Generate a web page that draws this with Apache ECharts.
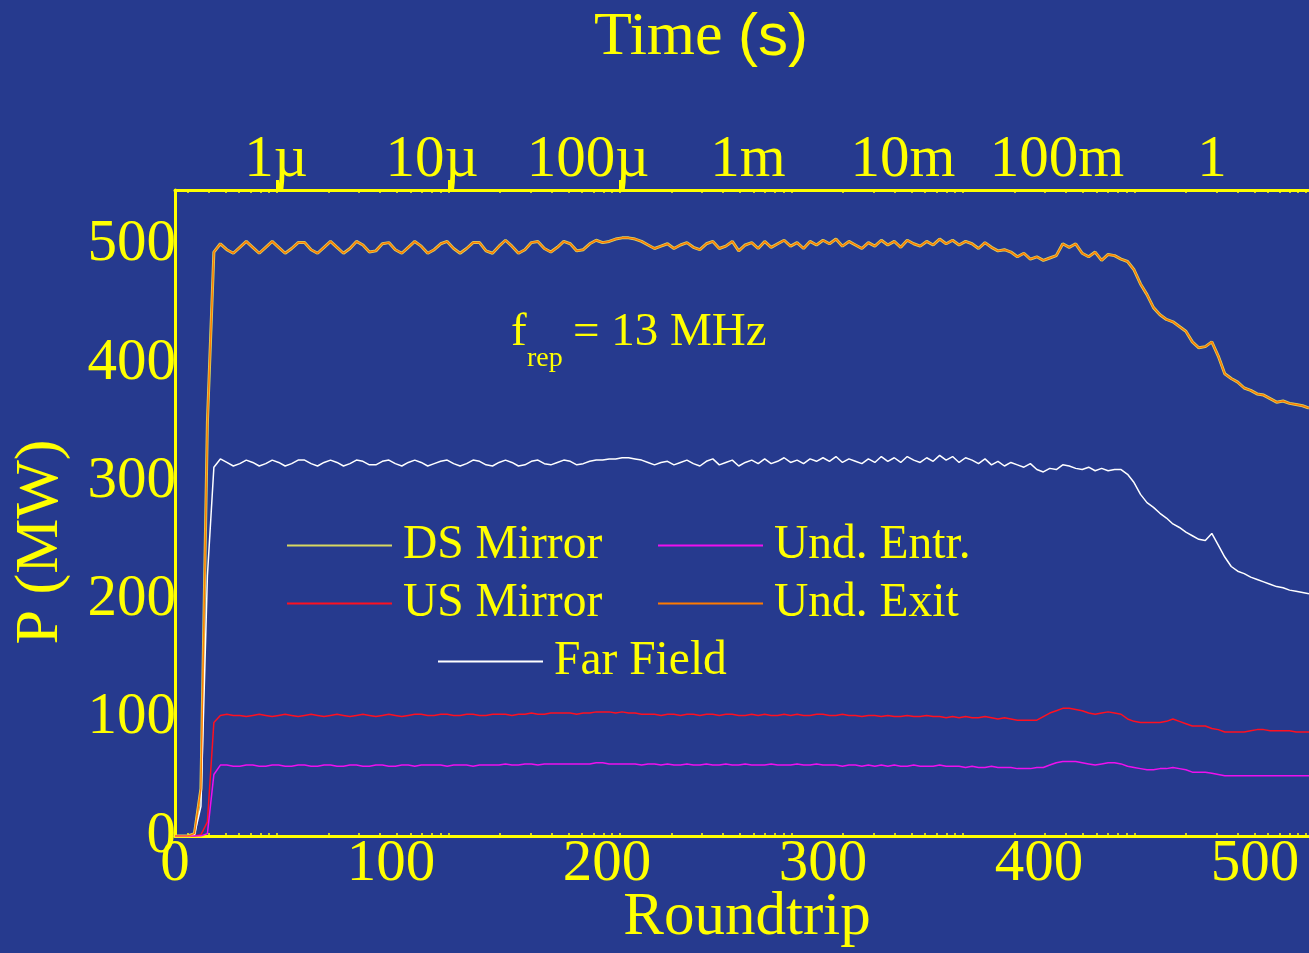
<!DOCTYPE html>
<html>
<head>
<meta charset="utf-8">
<script src="https://cdn.jsdelivr.net/npm/echarts@6/dist/echarts.min.js"></script>
<style>
  html, body { margin: 0; padding: 0; background: #263a8e; }
  #chart { width: 1309px; height: 953px; }
</style>
</head>
<body>
<div id="chart"></div>
<script>
const SERIF = '"Liberation Serif", "Times New Roman", serif';
const SANS = '"Liberation Sans", Arial, sans-serif';
const YELLOW = '#ffff00';
const BG = '#263a8e';

// sample positions (roundtrip number)
const roundtrip = [
  0, 3, 6, 9, 12, 15, 18, 21, 24, 27,
  30, 33, 36, 39, 42, 45, 48, 51, 54, 57,
  60, 63, 66, 69, 72, 75, 78, 81, 84, 87,
  90, 93, 96, 99, 102, 105, 108, 111, 114, 117,
  120, 123, 126, 129, 132, 135, 138, 141, 144, 147,
  150, 153, 156, 159, 162, 165, 168, 171, 174, 177,
  180, 183, 186, 189, 192, 195, 198, 201, 204, 207,
  210, 213, 216, 219, 222, 225, 228, 231, 234, 237,
  240, 243, 246, 249, 252, 255, 258, 261, 264, 267,
  270, 273, 276, 279, 282, 285, 288, 291, 294, 297,
  300, 303, 306, 309, 312, 315, 318, 321, 324, 327,
  330, 333, 336, 339, 342, 345, 348, 351, 354, 357,
  360, 363, 366, 369, 372, 375, 378, 381, 384, 387,
  390, 393, 396, 399, 402, 405, 408, 411, 414, 417,
  420, 423, 426, 429, 432, 435, 438, 441, 444, 447,
  450, 453, 456, 459, 462, 465, 468, 471, 474, 477,
  480, 483, 486, 489, 492, 495, 498, 501, 504, 507,
  510, 513, 516, 519, 522, 525
];

// power in MW
const undExit = [
  0, 0, 0, 2, 40, 350, 494, 501, 496, 493,
  498, 503, 498, 493, 498, 503, 498, 493, 497, 502,
  502, 496, 493, 498, 503, 498, 493, 497, 503, 500,
  494, 495, 501, 502, 496, 493, 498, 503, 499, 493,
  496, 501, 503, 497, 493, 497, 502, 502, 495, 493,
  499, 504, 499, 493, 496, 502, 503, 497, 494, 498,
  503, 501, 495, 496, 501, 504, 502, 503, 505, 506,
  506, 505, 503, 500, 497, 499, 501, 497, 500, 502,
  498, 496, 501, 503, 497, 499, 503, 495, 500, 502,
  497, 503, 498, 501, 504, 499, 502, 497, 503, 500,
  504, 501, 505, 499, 503, 500, 497, 502, 499, 504,
  500, 503, 498, 504, 501, 499, 503, 500, 505, 501,
  504, 500, 503, 501, 497, 502, 498, 495, 496, 494,
  490, 493, 488, 490, 487, 489, 491, 501, 498, 501,
  493, 490, 494, 487, 492, 491, 488, 486, 479, 467,
  458, 447, 441, 437, 435, 431, 427, 418, 413, 414,
  418, 406, 391, 387, 384, 379, 377, 374, 373, 370,
  367, 368, 366, 365, 364, 362
];

const farField = [
  0, 0, 0, 1, 25, 220, 312, 319, 316, 313,
  315, 318, 316, 313, 315, 318, 316, 313, 315, 318,
  318, 315, 313, 316, 318, 316, 313, 315, 318, 317,
  314, 314, 317, 318, 315, 313, 316, 318, 316, 313,
  315, 317, 318, 315, 313, 315, 318, 317, 314, 313,
  316, 318, 316, 313, 314, 317, 318, 315, 314, 316,
  318, 317, 314, 315, 317, 318, 318, 319, 319, 320,
  320, 319, 318, 316, 314, 316, 317, 314, 316, 318,
  315, 313, 317, 319, 314, 316, 318, 313, 316, 318,
  315, 319, 315, 317, 320, 316, 318, 315, 319, 317,
  320, 317, 321, 316, 319, 317, 315, 319, 316, 321,
  317, 320, 316, 321, 318, 316, 320, 317, 322, 318,
  321, 316, 320, 318, 315, 319, 314, 317, 313, 316,
  314, 312, 315, 310, 308, 311, 310, 314, 313, 311,
  310, 312, 309, 311, 309, 310, 310, 306, 299, 289,
  282, 278, 273, 269, 264, 261, 257, 254, 251, 250,
  256, 246, 236, 228, 224, 222, 219, 217, 215, 213,
  211, 210, 208, 207, 206, 205
];

const usMirror = [
  0, 0, 0, 0, 1, 12, 96, 102, 103, 102,
  102, 101, 102, 103, 102, 101, 102, 103, 102, 101,
  102, 103, 102, 101, 102, 103, 102, 101, 102, 103,
  102, 101, 102, 103, 102, 101, 102, 103, 103, 102,
  102, 103, 103, 102, 102, 103, 103, 102, 102, 103,
  103, 103, 102, 103, 103, 104, 103, 103, 104, 104,
  104, 104, 103, 104, 104, 105, 105, 105, 104, 105,
  104, 104, 103, 103, 103, 102, 103, 103, 102, 103,
  103, 102, 103, 103, 102, 103, 103, 102, 102, 103,
  102, 103, 102, 102, 103, 102, 103, 102, 102, 103,
  103, 102, 102, 103, 102, 102, 101, 102, 102, 101,
  102, 101, 101, 102, 101, 101, 102, 101, 101, 100,
  101, 100, 101, 100, 100, 101, 100, 99, 100, 99,
  98, 98, 98, 98, 101, 104, 106, 108, 108, 107,
  106, 104, 103, 104, 105, 104, 103, 99, 97, 96,
  96, 96, 96, 97, 99, 97, 95, 93, 93, 93,
  91, 90, 88, 88, 88, 88, 89, 90, 90, 89,
  89, 89, 89, 88, 88, 88
];

const undEntr = [
  0, 0, 0, 0, 0, 2, 52, 60, 60, 59,
  59, 60, 60, 59, 59, 60, 60, 59, 59, 60,
  60, 59, 59, 60, 60, 59, 59, 60, 60, 59,
  59, 60, 60, 59, 59, 60, 60, 59, 60, 60,
  60, 60, 59, 60, 60, 60, 59, 60, 60, 60,
  60, 61, 60, 60, 61, 61, 60, 61, 61, 61,
  61, 61, 61, 61, 61, 62, 62, 61, 61, 61,
  61, 61, 60, 61, 61, 60, 61, 60, 60, 61,
  60, 60, 61, 60, 60, 61, 60, 60, 61, 60,
  60, 60, 61, 60, 60, 60, 61, 60, 60, 61,
  60, 60, 60, 59, 60, 60, 59, 60, 59, 60,
  59, 60, 59, 59, 60, 59, 59, 59, 60, 59,
  59, 59, 58, 59, 58, 58, 59, 58, 58, 58,
  57, 57, 57, 58, 58, 60, 62, 63, 63, 63,
  62, 61, 60, 61, 62, 62, 61, 59, 58, 57,
  56, 56, 57, 57, 58, 57, 56, 54, 54, 54,
  53, 52, 51, 51, 51, 51, 51, 51, 51, 51,
  51, 51, 51, 51, 51, 51
];

// the DS Mirror trace lies right under the Und. Exit trace
const dsMirror = undExit;

const xTicks = [0, 100, 200, 300, 400, 500];
const yTicks = [0, 100, 200, 300, 400, 500];
const timeLabels = ['1\u00b5', '10\u00b5', '100\u00b5', '1m', '10m', '100m', '1'];
const timeLabelPos = [46.8, 119, 191.2, 265.3, 337, 408.3, 480.1];
const timeTickPos = [47.2, 126.9, 206];

// small inner log ticks of the time scale, one decade = 79.4 roundtrips
const minorTicks = [];
for (let d = -1; d < 7; d++) {
  for (let k = 1; k <= 9; k++) {
    const v = 47.2 + (d + Math.log10(k)) * 79.4;
    if (v > 1 && v < 524) minorTicks.push(+v.toFixed(2));
  }
}

const pairs = (vals) => vals.map((v, i) => [roundtrip[i], v]);

const lineSeries = (name, vals, color, width) => ({
  name,
  type: 'line',
  data: pairs(vals),
  showSymbol: false,
  symbol: 'none',
  silent: true,
  lineStyle: { color, width },
  itemStyle: { color },
  emphasis: { disabled: true },
});

const legendItem = (name, left, top) => ({
  data: [name],
  left,
  top,
  padding: 0,
  icon: 'rect',
  itemWidth: 105,
  itemHeight: 2,
  selectedMode: false,
  textStyle: {
    color: YELLOW,
    fontFamily: SERIF,
    fontSize: 47.5,
    lineHeight: 50,
    padding: [3, 0, 0, 6],
  },
});

const axisText = { color: YELLOW, fontFamily: SERIF, fontSize: 59 };

const chart = echarts.init(document.getElementById('chart'));
chart.setOption({
  backgroundColor: BG,
  animation: false,
  grid: { left: 175, right: 0, top: 190, bottom: 117 },
  legend: [
    legendItem('DS Mirror', 287, 519),
    legendItem('Und. Entr.', 658, 519),
    legendItem('US Mirror', 287, 577),
    legendItem('Und. Exit', 658, 577),
    legendItem('Far Field', 438, 635),
  ],
  xAxis: [
    {
      type: 'value',
      position: 'bottom',
      min: 0,
      max: 525,
      axisLine: { show: true, onZero: false, lineStyle: { color: YELLOW, width: 3 } },
      axisTick: { show: true, inside: true, length: 3, customValues: minorTicks, lineStyle: { color: YELLOW, width: 1.5 } },
      axisLabel: { ...axisText, customValues: xTicks, margin: -1 },
      splitLine: { show: false },
    },
    {
      type: 'value',
      position: 'top',
      min: 0,
      max: 525,
      axisLine: { show: true, onZero: false, lineStyle: { color: YELLOW, width: 3 } },
      axisTick: { show: true, inside: false, length: 10, customValues: timeTickPos, lineStyle: { color: YELLOW, width: 3 } },
      axisLabel: {
        ...axisText,
        margin: 0,
        customValues: timeLabelPos,
        formatter: (value) => {
          const i = timeLabelPos.findIndex((p) => Math.abs(p - value) < 0.01);
          return i >= 0 ? timeLabels[i] : '';
        },
      },
      splitLine: { show: false },
    },
    {
      type: 'value',
      position: 'top',
      min: 0,
      max: 525,
      axisLine: { show: false, onZero: false },
      axisTick: { show: true, inside: true, length: 3, customValues: minorTicks, lineStyle: { color: YELLOW, width: 1.5 } },
      axisLabel: { show: false },
      splitLine: { show: false },
    },
  ],
  yAxis: {
    type: 'value',
    min: 0,
    max: 546.5,
    axisLine: { show: true, onZero: false, lineStyle: { color: YELLOW, width: 3 } },
    axisTick: { show: false },
    axisLabel: { ...axisText, customValues: yTicks, margin: -1 },
    splitLine: { show: false },
  },
  series: [
    lineSeries('DS Mirror', dsMirror, '#d8d860', 3),
    lineSeries('US Mirror', usMirror, '#ff1020', 1.5),
    lineSeries('Far Field', farField, '#ffffff', 1.5),
    lineSeries('Und. Entr.', undEntr, '#ee10ee', 1.5),
    lineSeries('Und. Exit', undExit, '#ff7a00', 1.5),
  ],
  graphic: [
    {
      type: 'text',
      x: 701,
      y: 38,
      style: {
        text: '{a|Time }{b|(s)}',
        rich: {
          a: { fontFamily: SERIF, fontSize: 62, fill: YELLOW },
          b: { fontFamily: SANS, fontSize: 60, fill: YELLOW },
        },
        align: 'center',
        verticalAlign: 'middle',
        textAlign: 'center',
        textVerticalAlign: 'middle',
      },
    },
    {
      type: 'text',
      x: 747,
      y: 918,
      style: {
        text: 'Roundtrip',
        fontFamily: SERIF,
        fontSize: 61,
        fill: YELLOW,
        align: 'center',
        verticalAlign: 'middle',
        textAlign: 'center',
        textVerticalAlign: 'middle',
      },
    },
    {
      type: 'text',
      x: 41,
      y: 542,
      rotation: Math.PI / 2,
      style: {
        text: 'P (MW)',
        fontFamily: SERIF,
        fontSize: 62,
        fill: YELLOW,
        align: 'center',
        verticalAlign: 'middle',
        textAlign: 'center',
        textVerticalAlign: 'middle',
      },
    },
    {
      type: 'text',
      x: 511,
      y: 333,
      style: { text: 'f', fontFamily: SERIF, fontSize: 47, fill: YELLOW, align: 'left', verticalAlign: 'middle', textAlign: 'left', textVerticalAlign: 'middle' },
    },
    {
      type: 'text',
      x: 527,
      y: 359,
      style: { text: 'rep', fontFamily: SERIF, fontSize: 28, fill: YELLOW, align: 'left', verticalAlign: 'middle', textAlign: 'left', textVerticalAlign: 'middle' },
    },
    {
      type: 'text',
      x: 573,
      y: 333,
      style: { text: '= 13 MHz', fontFamily: SERIF, fontSize: 47, fill: YELLOW, align: 'left', verticalAlign: 'middle', textAlign: 'left', textVerticalAlign: 'middle' },
    },
  ],
});
</script>
</body>
</html>
